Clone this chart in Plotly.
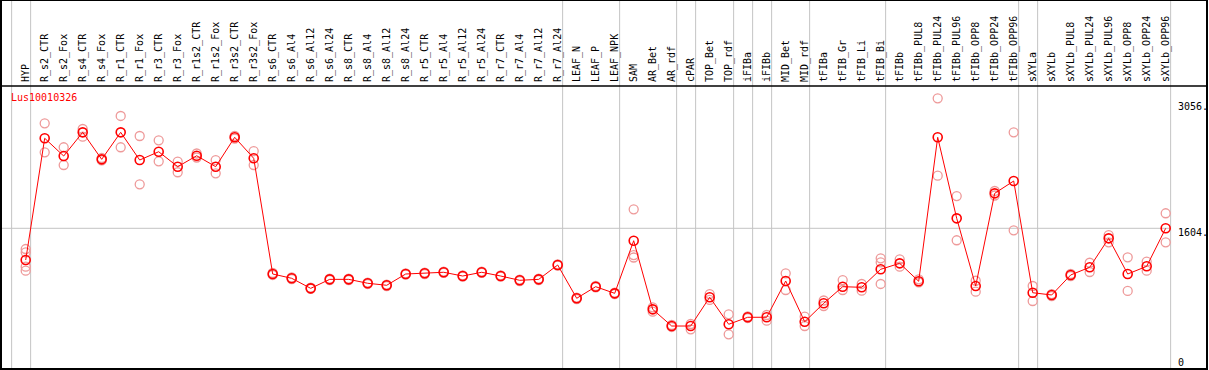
import plotly.graph_objects as go

gene = "Lus10010326"

categories = [
    "HYP", "R_s2_CTR", "R_s2_Fox", "R_s4_CTR", "R_s4_Fox", "R_r1_CTR", "R_r1_Fox",
    "R_r3_CTR", "R_r3_Fox", "R_r1s2_CTR", "R_r1s2_Fox", "R_r3s2_CTR", "R_r3s2_Fox",
    "R_s6_CTR", "R_s6_Al4", "R_s6_Al12", "R_s6_Al24", "R_s8_CTR", "R_s8_Al4",
    "R_s8_Al12", "R_s8_Al24", "R_r5_CTR", "R_r5_Al4", "R_r5_Al12", "R_r5_Al24",
    "R_r7_CTR", "R_r7_Al4", "R_r7_Al12", "R_r7_Al24", "LEAF_N", "LEAF_P", "LEAF_NPK",
    "SAM", "AR_Bet", "AR_rdf", "cPAR", "TOP_Bet", "TOP_rdf", "iFIBa", "iFIBb",
    "MID_Bet", "MID_rdf", "tFIBa", "tFIB_Gr", "tFIB_Li", "tFIB_Bi", "tFIBb",
    "tFIBb_PUL8", "tFIBb_PUL24", "tFIBb_PUL96", "tFIBb_OPP8", "tFIBb_OPP24",
    "tFIBb_OPP96", "sXYLa", "sXYLb", "sXYLb_PUL8", "sXYLb_PUL24", "sXYLb_PUL96",
    "sXYLb_OPP8", "sXYLb_OPP24", "sXYLb_OPP96",
]

means = [
    1241, 2634, 2431, 2702, 2393, 2702, 2385, 2480, 2309, 2434, 2309, 2645, 2405,
    1081, 1032, 917, 1020, 1020, 975, 952, 1081, 1089, 1101, 1058, 1101, 1058,
    1009, 1020, 1184, 803, 936, 860, 1462, 677, 486, 486, 815, 506, 586, 586,
    1001, 535, 746, 936, 929, 1135, 1203, 998, 2645, 1718, 944, 2004, 2145,
    867, 841, 1070, 1158, 1489, 1081, 1169, 1604,
]

replicates = [
    [1367, 1329, 1165, 1119], [2805, 2473], [2531, 2328], [2740, 2652], [2408, 2380],
    [2889, 2531], [2660, 2107], [2611, 2370], [2366, 2245], [2460, 2414],
    [2385, 2233], [2660, 2631], [2488, 2328], [1093, 1070], [1041, 1024],
    [925, 910], [1028, 1012], [1028, 1012], [983, 967], [960, 944], [1089, 1073],
    [1097, 1081], [1109, 1093], [1066, 1050], [1109, 1093], [1066, 1050],
    [1017, 1001], [1028, 1012], [1192, 1176], [811, 795], [944, 928], [868, 852],
    [1821, 1298, 1270], [700, 650], [498, 475], [509, 448], [852, 784], [620, 391],
    [595, 578], [612, 547], [1089, 898], [593, 486], [778, 715], [1012, 898],
    [967, 890], [1261, 1215, 967], [1249, 1165], [1020, 986], [3091, 2206],
    [1973, 1467], [1004, 879], [2031, 1979], [2702, 1581], [944, 772], [852, 829],
    [1081, 1058], [1210, 1104], [1527, 1444], [1272, 887], [1222, 1119], [1776, 1444],
]

# index of the last category in each group (a divider is drawn after it)
group_ends = [-1, 0, 28, 31, 34, 35, 37, 38, 39, 41, 45, 52, 53, 60]

y_ticks = [0, 1604, 3056]
y_tick_text = ["0", "1604.", "3056."]

FONT = "DejaVu Sans Mono"
x_idx = list(range(len(categories)))

rep_x, rep_y = [], []
for i, reps in enumerate(replicates):
    for v in reps:
        rep_x.append(i)
        rep_y.append(v)

fig = go.Figure()
fig.add_trace(go.Scatter(
    x=rep_x, y=rep_y, mode="markers",
    marker=dict(symbol="circle-open", size=9, color="#EE9A9A", line=dict(width=1.3)),
    hoverinfo="skip", cliponaxis=False,
))
fig.add_trace(go.Scatter(
    x=x_idx, y=means, mode="lines+markers",
    line=dict(color="#FF0000", width=1),
    marker=dict(symbol="circle-open", size=9, color="#FF0000", line=dict(width=1.6)),
    cliponaxis=False,
))

top_paper = 1 + 86 / 283
shapes = []
for g in group_ends:
    shapes.append(dict(type="line", xref="x", yref="paper", x0=g + 0.26, x1=g + 0.26,
                       y0=0, y1=top_paper, line=dict(color="#C4C4C4", width=1), layer="below"))
# middle reference line
shapes.append(dict(type="line", xref="x", yref="y", x0=-1.3, x1=group_ends[-1] + 0.26,
                   y0=y_ticks[1], y1=y_ticks[1], line=dict(color="#C4C4C4", width=1), layer="below"))
# frame
shapes.append(dict(type="rect", xref="paper", yref="paper", x0=0, x1=1, y0=0, y1=top_paper,
                   line=dict(color="black", width=2), fillcolor="rgba(0,0,0,0)"))
shapes.append(dict(type="line", xref="paper", yref="paper", x0=0, x1=1, y0=1, y1=1,
                   line=dict(color="black", width=1.5)))

annotations = [
    dict(text=gene, xref="paper", yref="paper", x=0.0065, y=0.96, xanchor="left",
         yanchor="middle", showarrow=False, font=dict(family=FONT, size=10, color="#FF0000")),
]
shifts = [6, -4, -5.5]
for v, t, s in zip(y_ticks, y_tick_text, shifts):
    annotations.append(dict(text=t, xref="paper", yref="y", x=0.9745, y=v, xanchor="left",
                            yanchor="middle", yshift=s, showarrow=False,
                            font=dict(family=FONT, size=10, color="black")))

fig.update_layout(
    template="none",
    width=1209, height=370,
    margin=dict(l=1, r=2, t=86, b=1, pad=0),
    paper_bgcolor="white", plot_bgcolor="white",
    showlegend=False,
    shapes=shapes,
    annotations=annotations,
    xaxis=dict(range=[-1.3, 62.174], side="top", tickmode="array", tickvals=x_idx,
               ticktext=categories, tickangle=-90, ticks="", showgrid=False,
               zeroline=False, showline=False, automargin=False, ticklabelstandoff=3,
               tickfont=dict(family=FONT, size=10, color="black")),
    yaxis=dict(range=[-5.7, 3232], showticklabels=False, showgrid=False, zeroline=False,
               showline=False, ticks="", automargin=False),
)

fig.write_html(
    "out.html",
    config={"displayModeBar": False},
    post_script="document.body.style.margin='0';document.body.style.overflow='hidden';",
)
